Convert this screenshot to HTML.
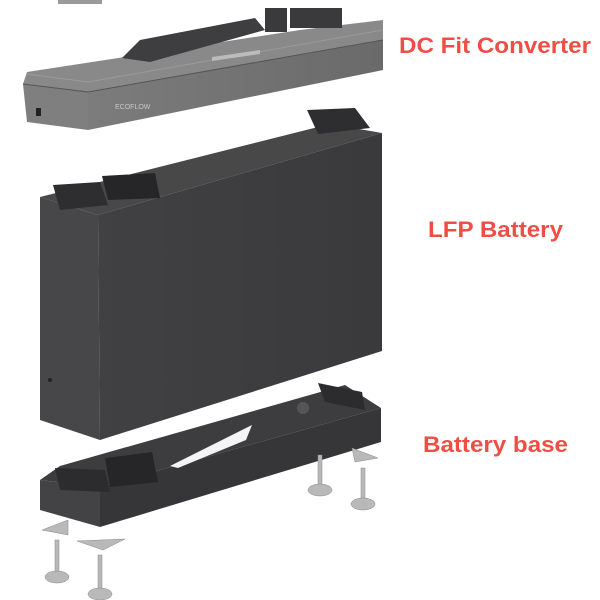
<!DOCTYPE html>
<html><head><meta charset="utf-8"><style>
html,body{margin:0;padding:0;background:#fff;width:600px;height:600px;overflow:hidden}
svg{display:block}
text{font-family:"Liberation Sans",Arial,sans-serif;font-weight:bold;fill:#f04e45}
</style></head><body>
<svg width="600" height="600" viewBox="0 0 600 600" xmlns="http://www.w3.org/2000/svg">
<defs>
<linearGradient id="cf" x1="0" y1="0" x2="1" y2="0"><stop offset="0" stop-color="#7c7c7c"/><stop offset="1" stop-color="#6a6a6a"/></linearGradient>
<linearGradient id="bf" x1="0" y1="0" x2="1" y2="0"><stop offset="0" stop-color="#414143"/><stop offset="1" stop-color="#3a3a3c"/></linearGradient>
</defs>
<rect x="58" y="0" width="44" height="4" fill="#9a9a9a"/>
<!-- converter -->
<polygon points="23,84 88,92 88,130 27,122" fill="#7f7f7f"/>
<polygon points="88,92 383,40 383,70 88,130" fill="url(#cf)"/>
<polygon points="27,72 300,30 383,20 383,40 88,92 23,84" fill="#898989"/>
<line x1="88" y1="92" x2="383" y2="40" stroke="#555" stroke-width="1"/>
<line x1="23" y1="84" x2="88" y2="92" stroke="#555" stroke-width="1"/>
<line x1="27" y1="74" x2="88" y2="82" stroke="#9a9a9a" stroke-width="1"/>
<line x1="88" y1="82" x2="383" y2="30" stroke="#9a9a9a" stroke-width="1"/>
<polygon points="122,58 140,40 255,18 265,30 150,62" fill="#3e3e40"/>
<rect x="265" y="8" width="22" height="24" fill="#3a3a3c"/>
<rect x="290" y="8" width="52" height="20" fill="#3a3a3c"/>
<polygon points="212,57 260,50 260,54 212,61" fill="#bbb"/>
<text x="115" y="109" style="font-size:7px;fill:#c8c8c8;font-weight:normal">ECOFLOW</text>
<rect x="36" y="108" width="5" height="8" fill="#222"/>
<!-- battery -->
<polygon points="40,197 330,124 382,133 98,215" fill="#484849"/>
<polygon points="40,197 98,215 100,440 40,420" fill="#47474a"/>
<polygon points="98,215 382,133 382,351 100,440" fill="url(#bf)"/>
<polygon points="53,185 100,182 108,205 60,210" fill="#2e2e30"/>
<polygon points="102,176 155,173 160,198 108,200" fill="#262628"/>
<polygon points="307,110 355,108 370,128 318,134" fill="#2e2e30"/>
<circle cx="50" cy="380" r="2" fill="#222"/>
<!-- base -->
<polygon points="40,480 60,466 345,385 381,408 100,487" fill="#3d3d3f"/>
<polygon points="40,480 100,487 100,527 40,510" fill="#434345"/>
<polygon points="100,487 381,408 381,442 100,527" fill="#363638"/>
<polygon points="170,466 252,425 246,440 178,468" fill="#f4f4f4"/>
<polygon points="105,458 152,452 158,482 110,487" fill="#262628"/>
<polygon points="55,468 105,470 110,492 60,490" fill="#2c2c2e"/>
<polygon points="318,383 362,392 365,410 325,402" fill="#2c2c2e"/>
<circle cx="303" cy="408" r="6" fill="#555"/>
<!-- feet -->
<g fill="#b9b9b9" stroke="#888" stroke-width="0.5">
<polygon points="42,530 68,520 68,535"/>
<polygon points="77,541 125,539 103,550"/>
<polygon points="352,448 378,458 355,462"/>
<rect x="55" y="540" width="4" height="34"/>
<ellipse cx="57" cy="577" rx="12" ry="6"/>
<rect x="98" y="555" width="4" height="36"/>
<ellipse cx="100" cy="594" rx="12" ry="6"/>
<rect x="318" y="455" width="4" height="32"/>
<ellipse cx="320" cy="490" rx="12" ry="6"/>
<rect x="361" y="468" width="4" height="33"/>
<ellipse cx="363" cy="504" rx="12" ry="6"/>
</g>
<text x="399" y="53" font-size="22" textLength="192" lengthAdjust="spacingAndGlyphs">DC Fit Converter</text>
<text x="428" y="237" font-size="22" textLength="135" lengthAdjust="spacingAndGlyphs">LFP Battery</text>
<text x="423" y="452" font-size="22" textLength="145" lengthAdjust="spacingAndGlyphs">Battery base</text>
</svg>
</body></html>
